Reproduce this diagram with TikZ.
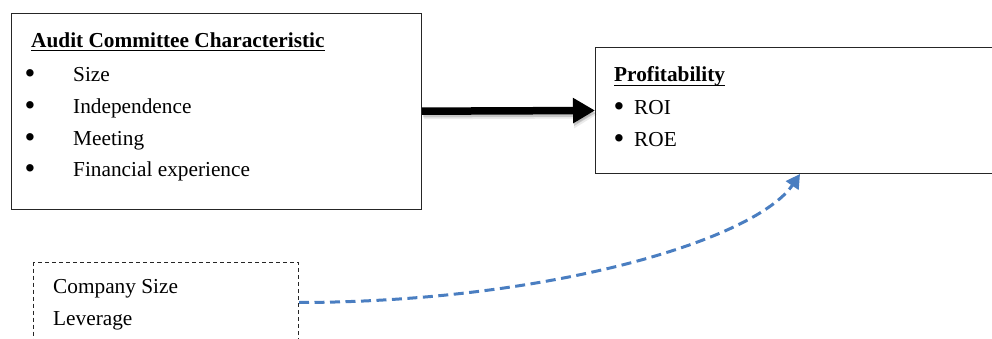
\documentclass[tikz,border=0pt]{standalone}
\usepackage{fontspec}
\setmainfont{Liberation Serif}
\usetikzlibrary{arrows.meta}
\definecolor{dashblue}{RGB}{74,126,193}
\newcommand{\bigbul}{\raisebox{-1.8pt}{\scalebox{1.45}{\textbullet}}}
\begin{document}
\begin{tikzpicture}[x=1pt,y=-1pt,
  every node/.style={inner sep=0pt, font=\fontsize{21.3}{32}\selectfont},
  txt/.style={anchor=base west},
  bul/.style={anchor=base},
  frame/.style={draw=black!85, line width=1pt},
  dframe/.style={draw=black!85, line width=1pt, dash pattern=on 4pt off 3pt},
  uline/.style={line width=1.3pt}]
\clip (0,0) rectangle (992,339);
\fill[white] (0,0) rectangle (992,339);
% boxes
\node[frame, anchor=north west, minimum width=410pt, minimum height=196pt] (acc) at (11,12.7) {};
\node[frame, anchor=north west, minimum width=420pt, minimum height=126pt] (prof) at (595,47) {};
\node[dframe, anchor=north west, minimum width=265pt, minimum height=80pt] (ctrl) at (33,262) {};
% left box text
\node[txt] (t1) at (31,47.7) {\textbf{Audit Committee Characteristic}};
\draw[uline] ([yshift=-3pt]t1.base west) -- ([yshift=-3pt]t1.base east);
\node[bul] (b1) at (30,81.7) {\bigbul};
\node[bul] (b2) at (30,113.5) {\bigbul};
\node[bul] (b3) at (30,145.5) {\bigbul};
\node[bul] (b4) at (30,177) {\bigbul};
\node[txt] (i1) at (73,81.7) {Size};
\node[txt] (i2) at (73,113.5) {Independence};
\node[txt] (i3) at (73,145.5) {Meeting};
\node[txt] (i4) at (73,177) {Financial experience};
% right box text
\node[txt] (t2) at (614,81.7) {\textbf{Profitability}};
\draw[uline] ([yshift=-3.5pt]t2.base west) -- ([yshift=-3.5pt]t2.base east);
\node[bul] (p1) at (619,115) {\bigbul};
\node[bul] (p2) at (619,147) {\bigbul};
\node[txt] (r1) at (634,115) {ROI};
\node[txt] (r2) at (634,147) {ROE};
% control box text
\node[txt] (c1) at (53,293) {Company Size};
\node[txt] (c2) at (53,325) {Leverage};
% main arrow with soft shadow
\draw[line width=8pt, black, opacity=0.08, -{Triangle[length=23pt,width=26pt]}]
  ([shift={(2pt,-4pt)}]acc.east) -- ([shift={(2pt,-4pt)}]prof.west);
\draw[line width=7.5pt, black, opacity=0.15, -{Triangle[length=22pt,width=24pt]}]
  ([shift={(1pt,-2.5pt)}]acc.east) -- ([shift={(1pt,-2.5pt)}]prof.west);
\draw[line width=7.5pt, black, -{Triangle[length=22pt,width=24pt]}] (acc.east) -- (prof.west);
% dashed blue curve
\coordinate (tip) at (800,174);
\draw[dashblue, line width=3pt, dash pattern=on 10pt off 5.5pt, -{Triangle[length=14pt,width=15pt]}]
  (ctrl.east) .. controls (549,302) and (755,240) .. (tip);
\end{tikzpicture}
\end{document}
